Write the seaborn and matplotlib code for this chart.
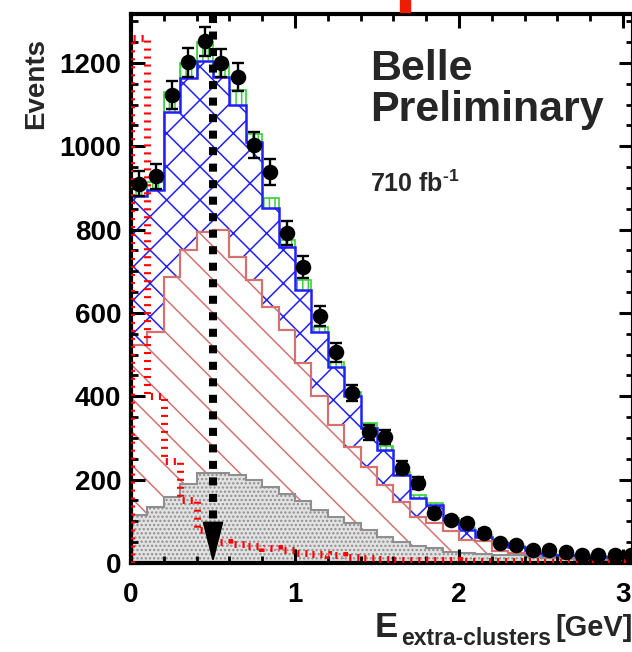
import numpy as np
import pandas as pd
import matplotlib
matplotlib.use("Agg")
import matplotlib.pyplot as plt
import seaborn as sns
from matplotlib.ticker import MultipleLocator, FixedLocator
from matplotlib.patches import Rectangle

# ---------------- data ----------------
bin_edges = np.round(np.arange(0.0, 3.11, 0.1), 2)       # 0.1 GeV bins, 0 .. 3.1
bin_centers = (bin_edges[:-1] + bin_edges[1:]) / 2

data_events = [910, 928, 1123, 1202, 1252, 1200, 1166, 1003, 938, 792,
               710, 592, 506, 408, 314, 302, 229, 192, 121, 103,
               95, 72, 48, 43, 30, 30, 26, 19, 19, 19, 18]

bkg_grey = [115, 134, 158, 190, 215, 215, 210, 199, 182, 165,
            148, 128, 110, 97, 80, 63, 50, 40, 36, 27,
            24, 22, 20, 18, 14, 12, 10, 8, 7, 6, 6]
bkg_red = [408, 421, 528, 561, 579, 585, 524, 481, 433, 395,
           332, 272, 220, 182, 151, 124, 96, 70, 60, 49,
           31, 30, 8, 7, 2, 1, 1, 1, 1, 1, 1]
bkg_blue = [357, 340, 396, 413, 411, 366, 365, 330, 237, 198,
            175, 155, 140, 121, 94, 84, 65, 46, 44, 27,
            25, 10, 20, 13, 8, 7, 7, 7, 6, 6, 5]
bkg_green = [20, 20, 48, 36, 45, 29, 36, 20, 24, 17,
             24, 11, 12, 10, 10, 9, 7, 6, 4, 5,
             4, 4, 2, 2, 2, 2, 2, 2, 2, 2, 2]
signal = [1260, 400, 245, 150, 80, 50, 45, 40, 35, 30,
          25, 22, 18, 15, 12, 10, 8, 7, 6, 6,
          5, 5, 4, 4, 4, 3, 3, 3, 3, 3, 3]

cut_value = 0.5
x_ticks = [0, 1, 2, 3]
y_ticks = [0, 200, 400, 600, 800, 1000, 1200]

# ---------------- style ----------------
sns.set_style("ticks")
plt.rcParams["font.family"] = ["Liberation Sans", "DejaVu Sans"]
plt.rcParams["font.weight"] = "bold"
plt.rcParams["mathtext.fontset"] = "custom"
plt.rcParams["mathtext.rm"] = "Liberation Sans:bold"
plt.rcParams["mathtext.bf"] = "Liberation Sans:bold"
plt.rcParams["hatch.linewidth"] = 1.1

W, H, DPI = 632, 652, 100
fig = plt.figure(figsize=(W / DPI, H / DPI), dpi=DPI)
x_max = 3.06
ax_left, ax_bottom, ax_top = 131, 563, 14
px_per_unit = 164
ax = fig.add_axes([ax_left / W, (H - ax_bottom) / H,
                   x_max * px_per_unit / W, (ax_bottom - ax_top) / H])

df = pd.DataFrame({"x": bin_centers, "data": data_events, "grey": bkg_grey,
                   "red": bkg_red, "blue": bkg_blue, "green": bkg_green,
                   "signal": signal})
cum_grey = df["grey"].to_numpy()
cum_red = cum_grey + df["red"].to_numpy()
cum_blue = cum_red + df["blue"].to_numpy()
cum_green = cum_blue + df["green"].to_numpy()

# stacked histograms (top-most cumulative first, lower layers painted over)
ax.stairs(cum_green, bin_edges, fill=True, facecolor="white", edgecolor="#3ad13a",
          hatch="|||", linewidth=1.2, zorder=1.0)
ax.stairs(cum_blue, bin_edges, fill=True, facecolor="white", edgecolor="#1f1fff",
          hatch="x", linewidth=1.8, zorder=1.1)
ax.stairs(cum_red, bin_edges, fill=True, facecolor="white", edgecolor="#d47272",
          hatch="\\", linewidth=1.6, zorder=1.2)
ax.stairs(cum_grey, bin_edges, fill=True, facecolor="#e2e2e2", edgecolor="#8f8f8f",
          hatch="....", linewidth=1.5, zorder=1.3)

# signal (red thick dashed step histogram)
ax.stairs(df["signal"], bin_edges, fill=False, edgecolor="#ff0000", linewidth=5.0,
          linestyle=(0, (0.3, 0.85)), zorder=4)

# data points
ax.errorbar(df["x"], df["data"], yerr=np.sqrt(df["data"]), fmt="none", ecolor="black",
            elinewidth=1.7, capsize=4.5, capthick=1.7, zorder=5)
sns.scatterplot(data=df, x="x", y="data", ax=ax, color="black", marker="o", s=125,
                edgecolor="black", linewidth=0, zorder=6, legend=False)

# cut arrow
ax.plot([cut_value, cut_value], [1315, 95], color="black", linewidth=5.8,
        linestyle=(0, (1, 1.05)), zorder=7, solid_capstyle="butt")
ax.annotate("", xy=(cut_value, 0), xytext=(cut_value, 90),
            arrowprops=dict(arrowstyle="-|>,head_length=1.3,head_width=0.33",
                            mutation_scale=20, color="black", lw=1.5,
                            shrinkA=0, shrinkB=0), zorder=7)

# axes
ax.set_xlim(0, x_max)
ax.set_ylim(0, (ax_bottom - ax_top) / 0.41667)
ax.xaxis.set_major_locator(FixedLocator(x_ticks))
ax.yaxis.set_major_locator(FixedLocator(y_ticks))
ax.xaxis.set_minor_locator(MultipleLocator(0.2))
ax.yaxis.set_minor_locator(MultipleLocator(50))
ax.tick_params(which="both", direction="in", top=True, right=True, colors="black")
ax.tick_params(which="major", length=10, width=2.2, labelsize=20)
ax.tick_params(which="minor", length=5, width=2.0)
ax.tick_params(axis="x", which="major", pad=14)
ax.tick_params(axis="y", which="major", pad=7)
for lab in ax.get_xticklabels() + ax.get_yticklabels():
    lab.set_fontweight("bold")
for sp in ax.spines.values():
    sp.set_linewidth(3.0)
    sp.set_color("black")
    sp.set_visible(True)
ax.set_axisbelow(False)
ax.set_xlabel("")
ax.set_ylabel("")

# texts
ax.text(1.457, 1159, "Belle", fontsize=31, fontweight="bold", va="baseline", ha="left")
ax.text(1.457, 1061, "Preliminary", fontsize=31, fontweight="bold", va="baseline", ha="left")
ax.text(1.457, 890, "710 fb$^{\u20101}$", fontsize=18, fontweight="bold",
        va="baseline", ha="left")

fig.text(36 / W, 1 - 38 / H, "Events", rotation=90, fontsize=20, fontweight="bold",
         ha="center", va="top")
fig.text(375 / W, 1 - 637 / H, "E", fontsize=25, fontweight="bold", ha="left", va="baseline")
fig.text(401 / W, 1 - 645 / H, "extra-clusters", fontsize=16.5, fontweight="bold",
         ha="left", va="baseline")
fig.text(555 / W, 1 - 636 / H, "[GeV]", fontsize=21, fontweight="bold", ha="left", va="baseline")

# small red mark above the frame (cropped element of the original slide)
fig.patches.append(Rectangle((400 / W, 1 - 12 / H), 10 / W, 12 / H,
                             transform=fig.transFigure, color="#ee1c00", zorder=0))

fig.savefig("out.png", dpi=DPI)
